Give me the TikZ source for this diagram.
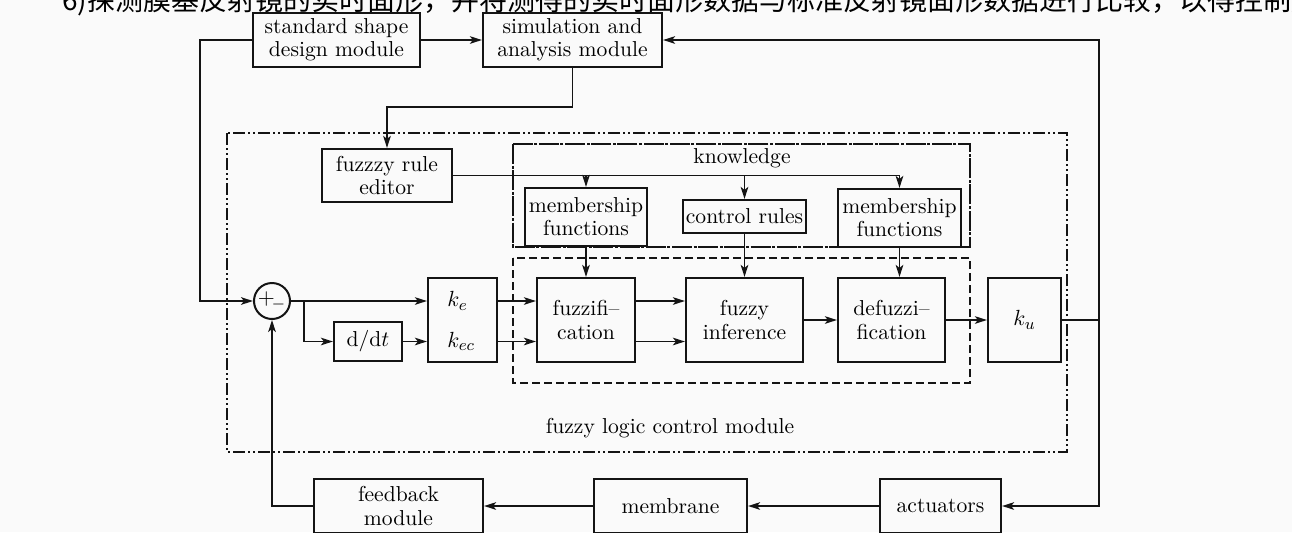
\documentclass[tikz,border=0pt]{standalone}
\usepackage{fontspec}
\newfontfamily\cjkfont{Noto Sans CJK SC}
\definecolor{figureink}{HTML}{141414}
\definecolor{pagetone}{HTML}{FAFAFA}
\usetikzlibrary{arrows.meta,positioning}
\tikzset{
    fuzzyblock/.style={
        draw=figureink,
        line width=1.1pt,
        inner sep=1pt,
        align=center
    },
    sumjunction/.style={
        draw=figureink,
        circle,
        line width=1pt,
        minimum size=18pt,
        inner sep=0pt
    },
    fuzzyarrow/.style={
        -{Stealth[length=6pt,width=3.8pt,inset=1.5pt]},
        draw=figureink,
        line width=0.8pt
    },
    fuzzyline/.style={
        draw=figureink,
        line width=0.8pt
    },
    logicframe/.style={
        draw=figureink,
        line width=1pt,
        dash pattern=on 6pt off 1.5pt on 1pt off 1.5pt on 1pt off 1.5pt
    },
    knowledgeframe/.style={
        draw=figureink,
        line width=1.2pt,
        dash pattern=on 10pt off 0.8pt on 1.5pt off 0.8pt
    },
    engineframe/.style={
        draw=figureink,
        line width=0.9pt,
        dash pattern=on 4pt off 2pt
    }
}

\begin{document}
\begin{tikzpicture}[x=0.5pt,y=-0.5pt,font=\fontsize{10.8pt}{11.6pt}\selectfont]
        \fill[pagetone] (0,0) rectangle (1292,532);
        \useasboundingbox (0,0) rectangle (1292,532);

        \begin{scope}
            \clip (0,0) rectangle (1292,532);
            \node[anchor=base west,inner sep=0pt,
                font=\cjkfont\fontsize{14pt}{14pt}\selectfont]
                (headText) at (62,10)
                {6)探测膜基反射镜的实时面形，并将测得的实时面形数据与标准反射镜面形数据进行比较，以得控制膜};
        \end{scope}

        % frames
        \draw[logicframe] (227,133) rectangle (1067,452);
        \draw[knowledgeframe] (513,144) rectangle (970,247);
        \draw[engineframe] (513,258) rectangle (970,383);

        \node (knowledgeLabel) at (742,158) {knowledge};
        \node (logicLabel) at (670,428) {fuzzy logic control module};

        % blocks
        \node[fuzzyblock,minimum width=83.5pt,minimum height=27pt]
            (shapeDesign) at (336.5,40) {standard shape\\design module};
        \node[fuzzyblock,minimum width=89.5pt,minimum height=27pt]
            (simAnalysis) at (572.5,40) {simulation and\\analysis module};
        \node[fuzzyblock,minimum width=65pt,minimum height=26.5pt]
            (ruleEditor) at (387,175.5) {fuzzzy rule\\editor};
        \node[fuzzyblock,minimum width=61pt,minimum height=29pt]
            (memberLeft) at (586,217) {membership\\functions};
        \node[fuzzyblock,minimum width=61.5pt,minimum height=16.5pt]
            (controlRules) at (744.5,216.5) {control rules};
        \node[fuzzyblock,minimum width=61.5pt,minimum height=29pt]
            (memberRight) at (899.5,218) {membership\\functions};

        \node[sumjunction] (sumPoint) at (272,301) {$+_{\!-}$};
        \node[fuzzyblock,minimum width=34pt,minimum height=19.5pt]
            (derivative) at (368,341.5) {d/d$t$};
        \node[fuzzyblock,minimum width=34.5pt,minimum height=42pt]
            (gainBox) at (462.5,320) {};
        \node[anchor=west,inner sep=0pt] (keLabel) at (447,301) {$k_e$};
        \node[anchor=west,inner sep=0pt] (kecLabel) at (447,341.5) {$k_{ec}$};
        \node[fuzzyblock,minimum width=49pt,minimum height=42pt]
            (fuzzification) at (586,320) {fuzzifi--\\cation};
        \node[fuzzyblock,minimum width=58.5pt,minimum height=42pt]
            (inference) at (744.5,320) {fuzzy\\inference};
        \node[fuzzyblock,minimum width=53.5pt,minimum height=42pt]
            (defuzzification) at (891.5,320) {defuzzi--\\fication};
        \node[fuzzyblock,minimum width=36.5pt,minimum height=42pt]
            (gainOut) at (1024.5,320) {$k_u$};

        \node[fuzzyblock,minimum width=84.5pt,minimum height=27pt]
            (feedbackBlock) at (398.5,506) {feedback\\module};
        \node[fuzzyblock,minimum width=76.5pt,minimum height=27pt]
            (membraneBlock) at (670.5,506) {membrane};
        \node[fuzzyblock,minimum width=60.5pt,minimum height=27pt]
            (actuatorBlock) at (940.5,506) {actuators};

        % route points
        \coordinate (inputCorner) at (200,40);
        \coordinate (editorRoute) at (387,107);
        \coordinate (derivSplit) at (304,301);
        \coordinate (outputRail) at (1099,320);

        % connectors
        \draw[fuzzyarrow] (shapeDesign) -- (simAnalysis);
        \draw[fuzzyarrow] (shapeDesign.west) -- (inputCorner) |- (sumPoint.west);
        \draw[fuzzyarrow] (simAnalysis.south) |- (editorRoute) -- (ruleEditor.north);

        \draw[fuzzyline] (ruleEditor.east) -- (ruleEditor.east -| memberRight.north);
        \draw[fuzzyarrow] (ruleEditor.east -| memberLeft.north) -- (memberLeft.north);
        \draw[fuzzyarrow] (ruleEditor.east -| controlRules.north) -- (controlRules.north);
        \draw[fuzzyarrow] (ruleEditor.east -| memberRight.north) -- (memberRight.north);

        \draw[fuzzyarrow] (memberLeft.south) -- (fuzzification.north);
        \draw[fuzzyarrow] (controlRules.south) -- (inference.north);
        \draw[fuzzyarrow] (memberRight.south) -- (memberRight.south |- defuzzification.north);

        \draw[fuzzyarrow] (sumPoint.east) -- (sumPoint.east -| gainBox.west);
        \draw[fuzzyarrow] (derivSplit) |- (derivative.west);
        \draw[fuzzyarrow] (derivative.east) -- (derivative.east -| gainBox.west);
        \draw[fuzzyarrow] (gainBox.east |- sumPoint.east) --
            (fuzzification.west |- sumPoint.east);
        \draw[fuzzyarrow] (gainBox.east |- derivative.east) --
            (fuzzification.west |- derivative.east);
        \draw[fuzzyarrow] (fuzzification.east |- sumPoint.east) --
            (inference.west |- sumPoint.east);
        \draw[fuzzyarrow] (fuzzification.east |- derivative.east) --
            (inference.west |- derivative.east);
        \draw[fuzzyarrow] (inference) -- (defuzzification);
        \draw[fuzzyarrow] (defuzzification) -- (gainOut);

        \draw[fuzzyline] (gainOut.east) -- (outputRail);
        \draw[fuzzyarrow] (outputRail) |- (simAnalysis.east);
        \draw[fuzzyarrow] (outputRail) |- (actuatorBlock.east);
        \draw[fuzzyarrow] (actuatorBlock) -- (membraneBlock);
        \draw[fuzzyarrow] (membraneBlock) -- (feedbackBlock);
        \draw[fuzzyarrow] (feedbackBlock.west) -| (sumPoint.south);
    \end{tikzpicture}
\end{document}
